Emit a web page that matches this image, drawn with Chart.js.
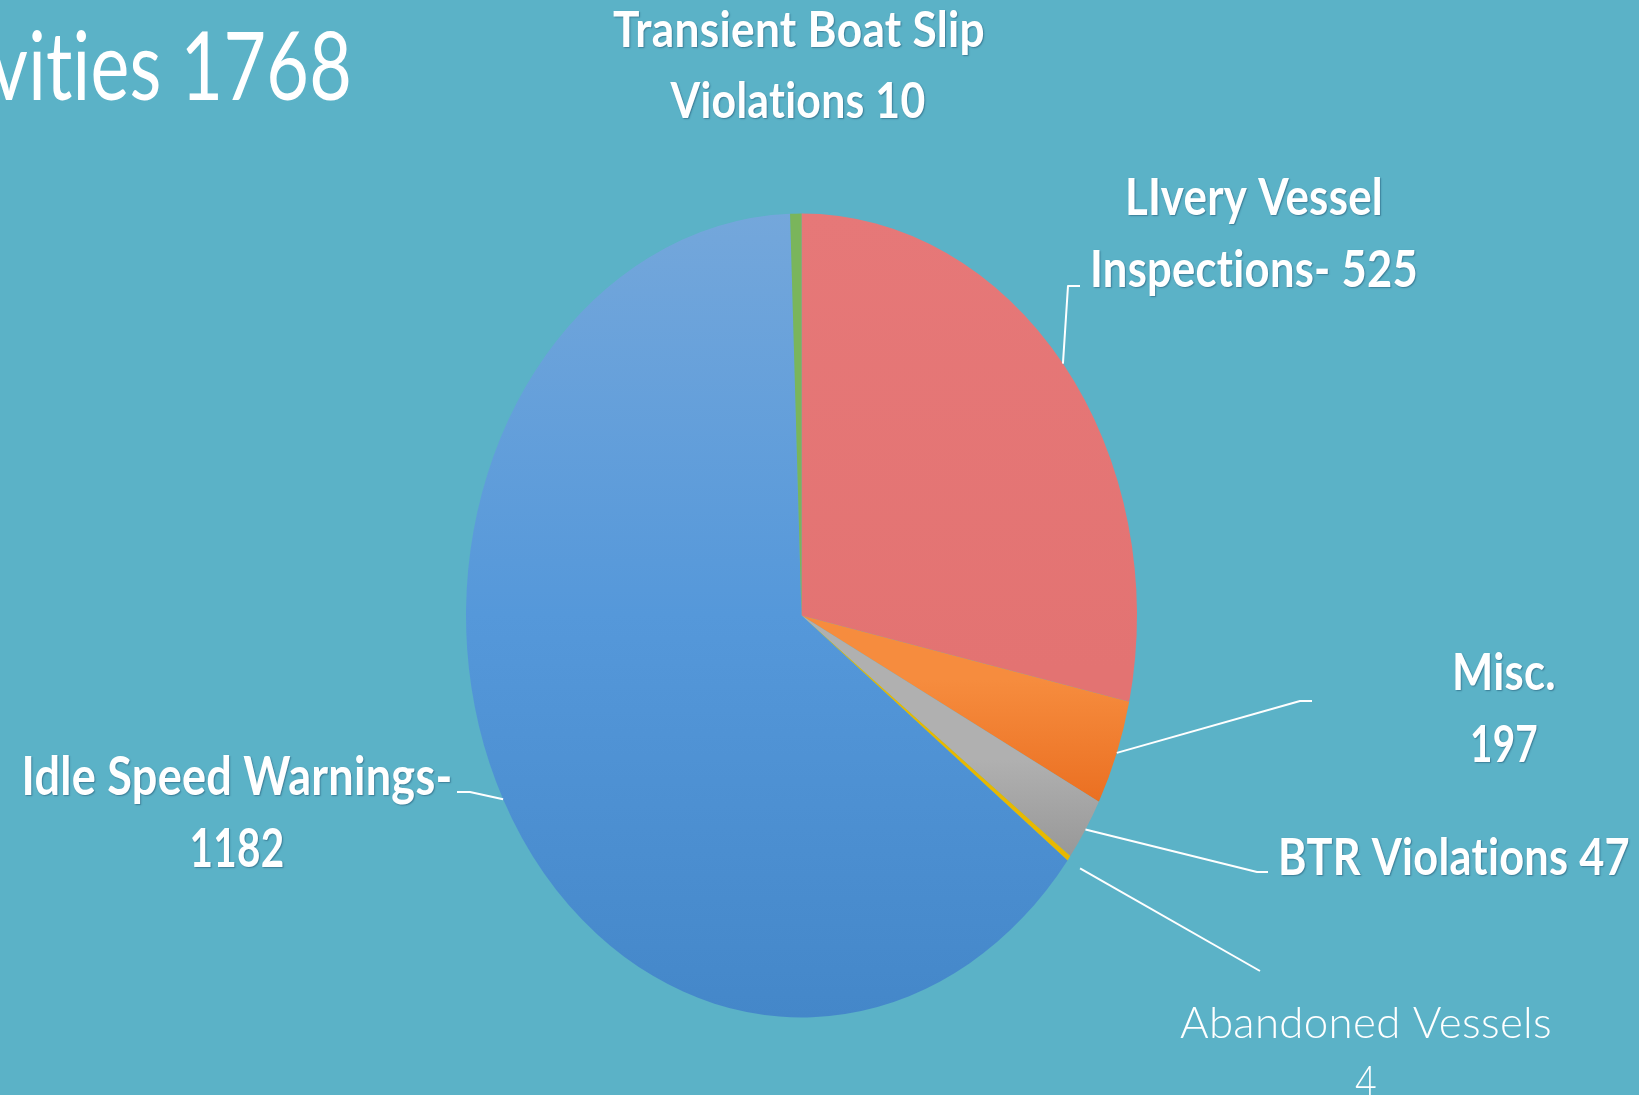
<!DOCTYPE html>
<html>
<head>
<meta charset="utf-8">
<script src="https://cdn.jsdelivr.net/npm/chart.js@4.4.1/dist/chart.umd.min.js"></script>
<style>
  html, body { margin: 0; padding: 0; background: #5BB2C7; overflow: hidden; }
  #wrap { width: 1639px; height: 1095px; position: relative; }
  canvas { display: block; font-variant-ligatures: none; }
</style>
</head>
<body>
<div id="wrap"><canvas id="c" width="1639" height="1095"></canvas></div>
<script>
// ---- data ----
const categories = ['LIvery Vessel Inspections', 'Misc.', 'BTR Violations', 'Abandoned Vessels', 'Idle Speed Warnings', 'Transient Boat Slip Violations'];
// slice sizes as drawn in the picture (Misc slice is visibly ~78 although labelled 197)
const values = [525, 78, 47, 4, 1182, 10];
const labelLines = [
  ['LIvery Vessel', 'Inspections- 525'],
  ['Misc.', '197'],
  ['BTR Violations 47'],
  ['Abandoned Vessels', '4'],
  ['Idle Speed Warnings-', '1182'],
  ['Transient Boat Slip', 'Violations 10']
];
const titleText = 'Activities 1768';

// ---- styling / layout ----
const SY = 1.198; // vertical stretch of the pie (ellipse)
const FONT = 'Lato, "Open Sans", sans-serif';
const labelLayout = [
  { weight: 700, lines: [{ cx: 1254, base: 215, cap: 37, w: 258 }, { cx: 1254, base: 287, cap: 37, w: 328 }], leader: [[1068, 286], [1080, 286]] },
  { weight: 700, lines: [{ cx: 1504, base: 690, cap: 37, w: 104 }, { cx: 1504, base: 762, cap: 37, w: 68 }], leader: [[1300, 701], [1312, 701]] },
  { weight: 700, lines: [{ cx: 1454, base: 875, cap: 37, w: 352 }], leader: [[1257, 872], [1268, 872]] },
  { weight: 300, lines: [{ cx: 1366, base: 1038, cap: 31, w: 372 }, { cx: 1366, base: 1097, cap: 31, w: 22 }], leader: [[1260, 971]], offset: 14 },
  { weight: 700, lines: [{ cx: 237, base: 795, cap: 38, w: 431 }, { cx: 237, base: 867, cap: 38, w: 95 }], leader: [[470, 792], [457, 792]] },
  { weight: 700, lines: [{ cx: 799, base: 47, cap: 35, w: 372 }, { cx: 798, base: 118, cap: 36, w: 255 }], leader: null }
];

function geom(chart) {
  const a = chart.chartArea;
  if (!a) return null;
  return { cx: (a.left + a.right) / 2, cy: (a.top + a.bottom) / 2, r: Math.min(a.right - a.left, a.bottom - a.top) / 2 };
}
function vGrad(chart, y0, y1, stops) {
  const g = geom(chart);
  if (!g) return stops[0];
  // y0/y1 in screen (stretched) coords -> convert to unstretched circle space
  const t0 = g.cy + (y0 - g.cy) / SY, t1 = g.cy + (y1 - g.cy) / SY;
  const grad = chart.ctx.createLinearGradient(0, t0, 0, t1);
  stops.forEach((c, i) => grad.addColorStop(i / (stops.length - 1), c));
  return grad;
}
const sliceFill = [
  (ch) => vGrad(ch, 213, 670, ['#E67878', '#E37372']),
  (ch) => vGrad(ch, 680, 830, ['#F68C3E', '#E8691B']),
  (ch) => vGrad(ch, 760, 860, ['#B0B0B0', '#979797']),
  (ch) => '#E8B800',
  (ch) => vGrad(ch, 213, 1017, ['#74A7DB', '#5598DA', '#4487C9']),
  (ch) => '#7AB55B'
];

const ellipsePlugin = {
  id: 'ellipse',
  beforeDatasetsDraw(chart) {
    const g = geom(chart), ctx = chart.ctx;
    ctx.save();
    ctx.translate(0, g.cy);
    ctx.scale(1, SY);
    ctx.translate(0, -g.cy);
  },
  afterDatasetsDraw(chart) { chart.ctx.restore(); }
};

function setFont(ctx, weight, size) {
  ctx.font = `${weight} ${size}px ${FONT}`;
  if ('letterSpacing' in ctx) ctx.letterSpacing = '0.3px'; // avoids "ti" ligatures
}

function fitText(ctx, text, cx, base, cap, width, weight) {
  setFont(ctx, weight, cap / 0.7165);
  const w = ctx.measureText(text).width;
  ctx.save();
  ctx.translate(cx, base);
  ctx.scale(width / w, 1);
  ctx.textAlign = 'center';
  ctx.textBaseline = 'alphabetic';
  ctx.fillText(text, 0, 0);
  ctx.restore();
}

const labelPlugin = {
  id: 'labels',
  afterDraw(chart) {
    const ctx = chart.ctx, g = geom(chart);
    if (!g) return;
    const arcs = chart.getDatasetMeta(0).data;
    // leader lines
    ctx.save();
    ctx.strokeStyle = '#FFFFFF';
    ctx.lineWidth = 2;
    ctx.lineJoin = 'round';
    arcs.forEach((arc, i) => {
      const L = labelLayout[i];
      if (!L.leader) return;
      const mid = (arc.startAngle + arc.endAngle) / 2;
      const rr = g.r + (L.offset || 0);
      const sx = g.cx + rr * Math.cos(mid);
      const sy = g.cy + rr * Math.sin(mid) * SY;
      ctx.beginPath();
      ctx.moveTo(sx, sy);
      L.leader.forEach(p => ctx.lineTo(p[0], p[1]));
      ctx.stroke();
    });
    ctx.restore();
    // labels
    ctx.save();
    ctx.fillStyle = '#FFFFFF';
    labelLines.forEach((lines, i) => {
      const L = labelLayout[i];
      ctx.save();
      if (L.weight >= 700) {
        ctx.shadowColor = 'rgba(20,60,90,0.45)';
        ctx.shadowOffsetX = 1; ctx.shadowOffsetY = 1; ctx.shadowBlur = 1.5;
      }
      lines.forEach((t, j) => {
        const s = L.lines[j];
        fitText(ctx, t, s.cx, s.base, s.cap, s.w, L.weight);
      });
      ctx.restore();
    });
    // title (left part runs off the page)
    setFont(ctx, 400, 68 / 0.7165);
    const vis = ctx.measureText('vities 1768').width;
    const k = (352 + 10) / vis;
    ctx.save();
    ctx.translate(352, 100);
    ctx.scale(k, 1);
    ctx.textAlign = 'right';
    ctx.textBaseline = 'alphabetic';
    ctx.fillText(titleText, 0, 0);
    ctx.restore();
    ctx.restore();
  }
};

const chart = new Chart(document.getElementById('c'), {
  type: 'pie',
  data: {
    labels: categories,
    datasets: [{
      data: values,
      backgroundColor: (c) => sliceFill[c.dataIndex](c.chart),
      borderWidth: 0,
      clip: false
    }]
  },
  options: {
    responsive: false,
    animation: false,
    devicePixelRatio: 1,
    layout: { padding: { left: 466, right: 502, top: 280, bottom: 144 } },
    plugins: { legend: { display: false }, tooltip: { enabled: false }, title: { display: false } },
    events: []
  },
  plugins: [ellipsePlugin, labelPlugin]
});
chart.update();
</script>
</body>
</html>
